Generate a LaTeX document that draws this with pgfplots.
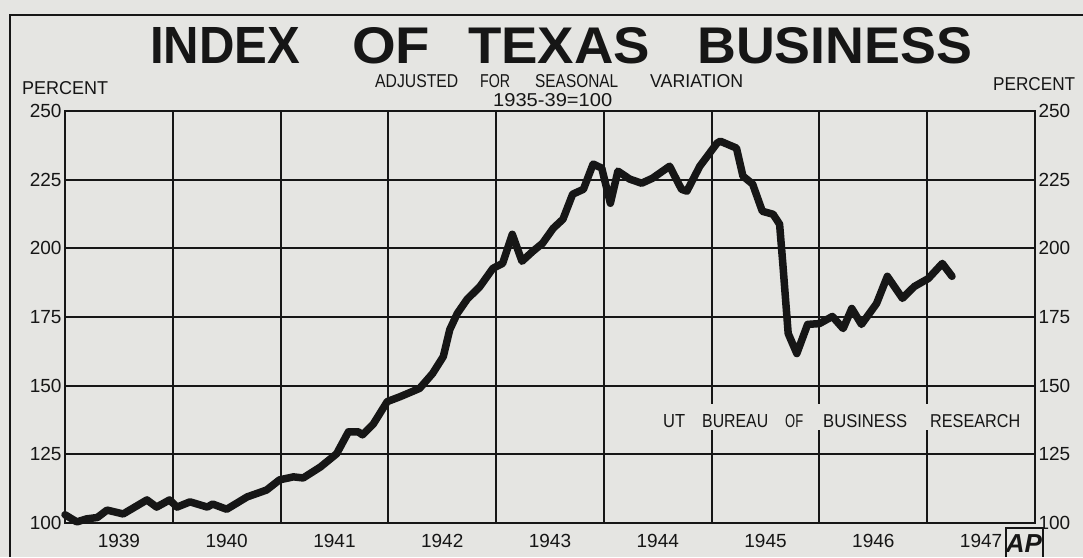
\documentclass[border=0pt]{standalone}
\usepackage{pgfplots}
\usepackage{pgfplotstable}
\pgfplotsset{compat=1.18}
\usepackage{fontspec}
\setmainfont{Liberation Sans}
\definecolor{paper}{RGB}{229,229,226}
\definecolor{ink}{RGB}{22,22,22}

\pgfplotstableread{
x y
1939.00 103
1939.11 100.4
1939.20 101.5
1939.30 102
1939.39 104.7
1939.54 103.3
1939.76 108.4
1939.85 105.8
1939.97 108.4
1940.04 105.8
1940.16 107.7
1940.32 105.8
1940.37 106.9
1940.50 105
1940.69 109.5
1940.87 112
1940.99 115.7
1941.12 116.8
1941.21 116.4
1941.37 120.4
1941.52 125.2
1941.63 133.2
1941.72 133.2
1941.76 132.1
1941.86 136
1941.99 144.2
1942.11 146
1942.29 149
1942.41 154.4
1942.51 160.6
1942.57 170.4
1942.64 176.3
1942.73 181.4
1942.85 186.1
1942.97 192.7
1943.06 194.5
1943.15 205.1
1943.24 195.3
1943.34 198.9
1943.43 201.8
1943.53 207.3
1943.62 210.6
1943.71 219.7
1943.81 221.5
1943.90 230.7
1943.98 229.2
1944.06 216.4
1944.13 228.1
1944.24 225.2
1944.35 223.7
1944.45 225.5
1944.61 229.9
1944.72 221.5
1944.77 220.8
1944.89 229.9
1945.05 238.3
1945.08 239
1945.23 236.5
1945.29 226.3
1945.38 223.4
1945.47 213.5
1945.57 212.4
1945.63 208.8
1945.66 194.5
1945.71 169
1945.79 161.7
1945.89 172.3
1946.00 172.6
1946.12 175.2
1946.22 170.8
1946.30 178.1
1946.39 172.3
1946.53 179.9
1946.63 189.8
1946.77 181.8
1946.88 186.1
1947.01 189
1947.14 194.5
1947.23 189.8
}\datatable

% word placed by left x, baseline y, width, cap height
\newcommand{\word}[6][]{%
  \node[anchor=south west, inner sep=0, text=ink, font=\fontsize{20}{20}\selectfont#1] at (#2,#3) {\resizebox{#4pt}{#5pt}{#6}};}

\begin{document}
\begin{tikzpicture}[x=1pt,y=1pt]
\fill[paper] (0,0) rectangle (1083,557);
\useasboundingbox (0,0) rectangle (1083,557);
\draw[ink, line width=2.2pt] (10,0) -- (10,542) -- (1083,542);

% title
\word[\bfseries]{150}{493}{150}{36}{INDEX}
\word[\bfseries]{352}{493}{78}{36}{OF}
\word[\bfseries]{468}{493}{182}{36}{TEXAS}
\word[\bfseries]{697}{493}{275}{36}{BUSINESS}
% subtitle
\word{375}{469}{83}{13}{ADJUSTED}
\word{480}{469}{30}{13}{FOR}
\word{535}{469}{83}{13}{SEASONAL}
\word{650}{469}{93}{13}{VARIATION}
\word{493}{450}{119}{13}{1935-39=100}
% percent labels
\word{22}{462}{86}{13}{PERCENT}
\word{993}{466}{82}{13}{PERCENT}

\begin{axis}[
  at={(65pt,34pt)}, anchor=south west, scale only axis,
  width=970pt, height=412pt,
  xmin=1939, xmax=1948, ymin=100, ymax=250,
  xtick={1939.5,1940.5,1941.5,1942.5,1943.5,1944.5,1945.5,1946.5,1947.5},
  xticklabels={1939,1940,1941,1942,1943,1944,1945,1946,1947},
  minor xtick={1940,1941,1942,1943,1944,1945,1946,1947},
  ytick={100,125,150,175,200,225,250},
  yticklabels={100,125,150,175,200,225,250},
  xminorgrids=true, xmajorgrids=false, ymajorgrids=true,
  major tick length=0pt, minor tick length=0pt,
  grid style={ink, line width=2pt},
  minor grid style={ink, line width=2pt},
  axis line style={ink, line width=2.2pt},
  ticklabel style={font=\fontsize{19}{19}\selectfont, text=ink},
  xticklabel style={yshift=-8pt},
  /pgf/number format/assume math mode=true,
  clip=false,
]
\addplot[ink, line width=7.5pt, line join=round, line cap=round] table[x=x, y=y] {\datatable};
\end{axis}

\begin{axis}[
  at={(65pt,34pt)}, anchor=south west, scale only axis,
  width=970pt, height=412pt,
  xmin=1939, xmax=1948, ymin=100, ymax=250,
  hide x axis,
  axis y line*=right,
  y axis line style={draw=none},
  ytick={100,125,150,175,200,225,250},
  yticklabels={100,125,150,175,200,225,250},
  major tick length=0pt,
  ticklabel style={font=\fontsize{19}{19}\selectfont, text=ink},
]
\end{axis}

% source note with gap in grid
\fill[paper] (655,127) rectangle (1025,153);
\word{663}{129}{22}{13}{UT}
\word{702}{129}{66}{13}{BUREAU}
\word{785}{129}{18}{13}{OF}
\word{823}{129}{84}{13}{BUSINESS}
\word{930}{129}{90}{13}{RESEARCH}

\draw[ink, line width=1.8pt] (1006,0) -- (1006,29) -- (1043,29) -- (1043,0);
\node[text=ink, inner sep=0, font=\fontsize{26}{26}\selectfont\bfseries\itshape] at (1024,13) {AP};
\end{tikzpicture}
\end{document}
